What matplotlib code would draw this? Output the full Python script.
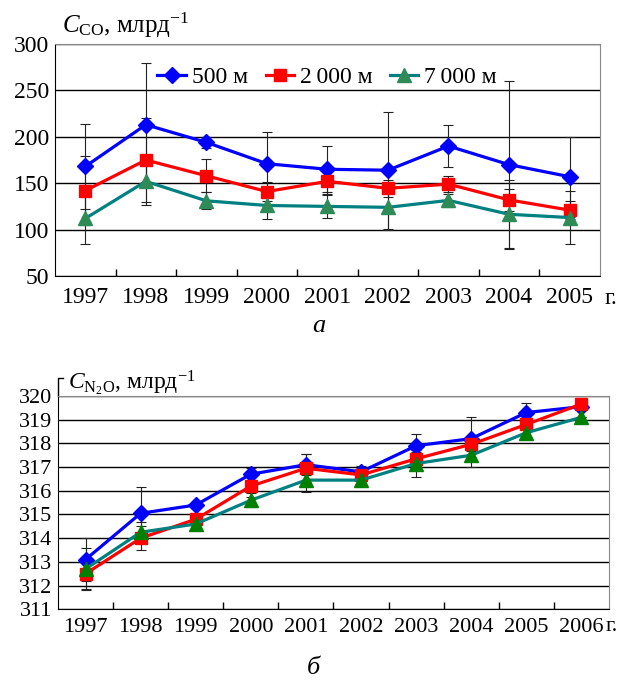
import numpy as np
import matplotlib.pyplot as plt
from matplotlib.ticker import FixedLocator, NullFormatter

plt.rcParams['font.family'] = ['Liberation Serif', 'DejaVu Serif']
plt.rcParams['mathtext.fontset'] = 'custom'
plt.rcParams['mathtext.rm'] = 'Liberation Serif'
plt.rcParams['mathtext.it'] = 'Liberation Serif:italic'

# --- данные: CO ---
years_co = ['1997', '1998', '1999', '2000', '2001', '2002', '2003', '2004', '2005']
co_500 = [168, 213, 194, 171, 165, 164, 190, 170, 157]
co_2000 = [142, 175, 158, 141, 152, 144.5, 149, 132, 121]
co_7000 = [112, 152, 131, 126, 125, 124, 131.5, 116.5, 113]
co_500_err = [46, 67, 6, 34, 25, 63, 23, 90, 43]
co_2000_err = [37, 45, 18, 10, 14, 9, 9, 12, 10]
co_7000_err = [28, 25, 9, 15, 12, 24, 7, 37, 29]

# --- данные: N2O ---
years_n2o = ['1997', '1998', '1999', '2000', '2001', '2002', '2003', '2004', '2005', '2006']
n2o_500 = [313.1, 315.05, 315.4, 316.7, 317.1, 316.8, 317.9, 318.2, 319.3, 319.55]
n2o_2000 = [312.5, 314.0, 314.8, 316.2, 316.95, 316.67, 317.35, 317.96, 318.8, 319.66]
n2o_7000 = [312.7, 314.25, 314.6, 315.6, 316.45, 316.45, 317.15, 317.5, 318.45, 319.1]
n2o_500_err = [0.9, 1.1, 0.1, 0.25, 0.45, 0.25, 0.5, 0.9, 0.4, 0.0]
n2o_2000_err = [0.65, 0.5, 0.1, 0.45, 0.6, 0.2, 0.3, 0.3, 0.2, 0.0]
n2o_7000_err = [0.9, 0.45, 0.25, 0.3, 0.5, 0.2, 0.55, 0.5, 0.2, 0.0]

labels = ['500 м', '2\u2009000 м', '7\u2009000 м']

fig = plt.figure(figsize=(6.19, 6.82), dpi=100)
ax1 = fig.add_axes([0.0889, 0.5953, 0.8801, 0.3402])
ax2 = fig.add_axes([0.0937, 0.1066, 0.8901, 0.3128])


def draw(ax, years, series, errs, tri_color, fs, ms, pad):
    x = np.arange(len(years))
    styles = [('D', '#0000FF', '#0000FF', ms[0]),
              ('s', '#FF0000', '#FF0000', ms[1]),
              ('^', '#008080', tri_color, ms[2])]
    # планки погрешностей
    for y, e in zip(series, errs):
        ax.errorbar(x, y, yerr=e, fmt='none', ecolor='#222222',
                    elinewidth=0.8, capsize=3.5, capthick=0.8, zorder=2)
    handles = []
    for (m, lc, mc, s), y, lab in zip(styles, series, labels):
        h, = ax.plot(x, y, color=lc, lw=2.3, marker=m, markersize=s,
                     markerfacecolor=mc, markeredgecolor=mc, label=lab, zorder=3)
        handles.append(h)
    ax.set_xlim(-0.5, len(years) - 0.5)
    ax.set_xticks(x)
    ax.set_xticklabels(years, fontsize=fs)
    ax.tick_params(axis='x', which='major', length=0, pad=pad)
    ax.xaxis.set_minor_locator(FixedLocator(np.arange(0.5, len(years) - 1, 1.0)))
    ax.xaxis.set_minor_formatter(NullFormatter())
    ax.tick_params(axis='x', which='minor', direction='in', length=5, width=1)
    ax.tick_params(axis='y', length=0, labelsize=fs, pad=4)
    ax.grid(axis='y', color='black', lw=1)
    ax.set_axisbelow(True)
    for s in ['top', 'right']:
        ax.spines[s].set_color('#888888')
    for s in ['left', 'bottom']:
        ax.spines[s].set_color('black')
    return handles


h = draw(ax1, years_co, [co_500, co_2000, co_7000],
         [co_500_err, co_2000_err, co_7000_err], '#2E8B57', 17, [8, 9, 10], 8)
ax1.set_ylim(50, 300)
ax1.set_yticks([50, 100, 150, 200, 250, 300])
ax1.legend(handles=h, loc='upper left', bbox_to_anchor=(0.149, 0.995), ncol=3,
           frameon=False, fontsize=17, handlelength=1.2, handletextpad=0.25,
           columnspacing=0.75)
ax1.text(0.013, 1.047, r'$C_{\rm CO}$, млрд$^{-1}$', transform=ax1.transAxes,
         fontsize=18, ha='left', va='baseline')
fig.text(0.998, 0.562, 'г.', fontsize=17, ha='right', va='center')
fig.text(0.515, 0.522, 'а', fontsize=19, style='italic', ha='center', va='center')

draw(ax2, years_n2o, [n2o_500, n2o_2000, n2o_7000],
     [n2o_500_err, n2o_2000_err, n2o_7000_err], '#008000', 16, [8, 9, 10], 6)
ax2.set_ylim(311, 320)
ax2.set_yticks(np.arange(311, 321, 1))
ax2.plot([0, 0, 0.009], [1.0, 1.083, 1.083], transform=ax2.transAxes,
         color='black', lw=1, clip_on=False)
ax2.text(0.018, 1.035, r'$C_{\rm N_2O}$, млрд$^{-1}$', transform=ax2.transAxes,
         fontsize=17, ha='left', va='baseline')
fig.text(0.998, 0.081, 'г.', fontsize=16, ha='right', va='center')
fig.text(0.506, 0.021, 'б', fontsize=19, style='italic', ha='center', va='center')

fig.savefig('out.png', dpi=100)
